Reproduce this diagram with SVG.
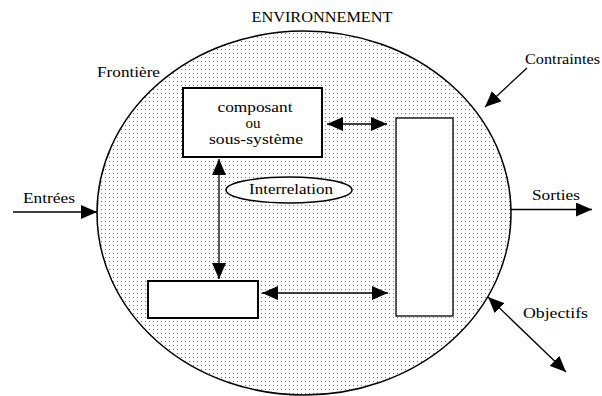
<svg xmlns="http://www.w3.org/2000/svg" width="602" height="396" viewBox="0 0 602 396">
<style>
text{font-family:"Liberation Serif","Times New Roman",Times,serif;font-size:15px;fill:#000}
.box{fill:#fff;stroke:#000;stroke-width:2}
.ln{stroke:#000;stroke-width:1.3;fill:none}
</style>
<defs>
<pattern id="dots" x="0" y="0" width="4" height="4" patternUnits="userSpaceOnUse">
<rect width="4" height="4" fill="#fff"/>
<rect x="1" y="1" width="1" height="1" fill="#707070"/>
</pattern>
<marker id="ah" viewBox="0 0 16 14" refX="16" refY="7" markerWidth="16" markerHeight="14" markerUnits="userSpaceOnUse" orient="auto-start-reverse">
<path d="M0,0 L16,7 L0,14 Z" fill="#000"/>
</marker>
</defs>
<rect width="602" height="396" fill="#fff"/>
<g font-family="'Liberation Serif','Times New Roman',Times,serif">
<text x="322" y="22" text-anchor="middle" textLength="141" lengthAdjust="spacingAndGlyphs">ENVIRONNEMENT</text>
<g id="systeme">
<ellipse cx="304" cy="213" rx="207" ry="182" fill="url(#dots)" stroke="#000" stroke-width="1.5"/>
</g>
<text x="97" y="77" textLength="63" lengthAdjust="spacingAndGlyphs">Frontière</text>
<g id="composant">
<rect class="box" x="183" y="88" width="139" height="69"/>
<text x="255" y="112" text-anchor="middle" textLength="75" lengthAdjust="spacingAndGlyphs">composant</text>
<text x="253" y="128" text-anchor="middle">ou</text>
<text x="256" y="144" text-anchor="middle" textLength="94" lengthAdjust="spacingAndGlyphs">sous-système</text>
</g>
<g id="composant2">
<rect class="box" x="148" y="281" width="110" height="37"/>
</g>
<g id="composant3">
<rect fill="#fff" stroke="#000" stroke-width="1.3" x="396" y="118" width="57" height="198"/>
</g>
<g id="interrelation">
<ellipse cx="289" cy="190" rx="63" ry="13" fill="#fff" stroke="#000" stroke-width="1.5"/>
<text x="291" y="194" text-anchor="middle" textLength="84" lengthAdjust="spacingAndGlyphs">Interrelation</text>
</g>
<g id="labels">
<text x="23" y="203" textLength="52" lengthAdjust="spacingAndGlyphs">Entrées</text>
<text x="532" y="200" textLength="48" lengthAdjust="spacingAndGlyphs">Sorties</text>
<text x="525" y="64" textLength="75" lengthAdjust="spacingAndGlyphs">Contraintes</text>
<text x="523" y="318" textLength="65" lengthAdjust="spacingAndGlyphs">Objectifs</text>
</g>
</g>
<g id="connectors">
<line class="ln" x1="327" y1="124" x2="387" y2="124" marker-start="url(#ah)" marker-end="url(#ah)"/>
<line class="ln" x1="262" y1="293" x2="388" y2="293" marker-start="url(#ah)" marker-end="url(#ah)"/>
<line class="ln" x1="219" y1="159" x2="219" y2="279" marker-start="url(#ah)" marker-end="url(#ah)"/>
<line class="ln" x1="13" y1="212" x2="97" y2="212" marker-end="url(#ah)"/>
<line class="ln" x1="511" y1="209.5" x2="592" y2="209.5" marker-end="url(#ah)"/>
<line class="ln" x1="527" y1="68" x2="485" y2="107" marker-end="url(#ah)"/>
<line class="ln" x1="488" y1="297" x2="566" y2="372" marker-start="url(#ah)" marker-end="url(#ah)"/>
</g>
</svg>
